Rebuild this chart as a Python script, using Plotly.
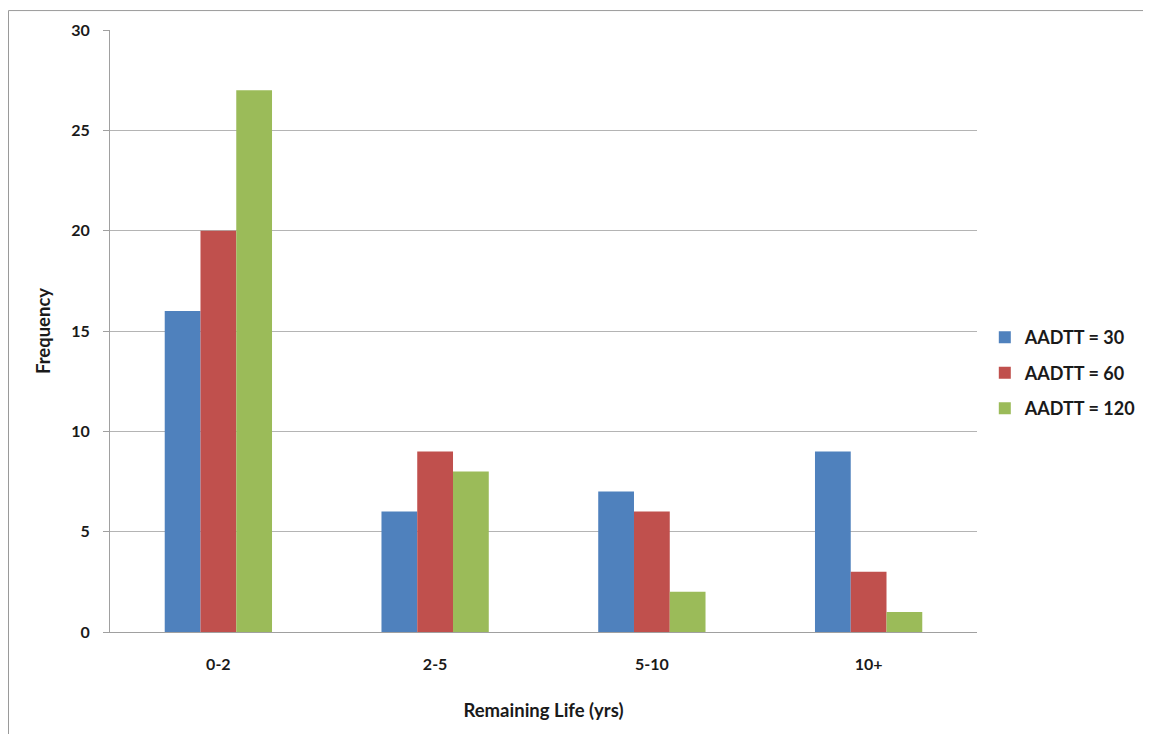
import plotly.graph_objects as go

categories = ["0-2", "2-5", "5-10", "10+"]
series_names = ["AADTT = 30", "AADTT = 60", "AADTT = 120"]
aadtt_30 = [16, 6, 7, 9]
aadtt_60 = [20, 9, 6, 3]
aadtt_120 = [27, 8, 2, 1]
colors = ["#4F81BD", "#C0504D", "#9BBB59"]
y_ticks = [0, 5, 10, 15, 20, 25, 30]

fig = go.Figure()
for i, (name, vals) in enumerate(zip(series_names, [aadtt_30, aadtt_60, aadtt_120])):
    fig.add_trace(go.Bar(x=categories, y=vals, name=name, marker_color=colors[i],
                         marker_line_width=0, legendgroup=str(i)))

font_fam = "Lato, 'Open Sans', sans-serif"
W, H = 1151, 734
L, R, T, B = 102, 182, 20, 110
PW, PH = W - L - R, H - T - B
fig.update_layout(
    width=W, height=H,
    margin=dict(l=L, r=R, t=T, b=B),
    paper_bgcolor="white", plot_bgcolor="white",
    barmode="group", bargap=0.505, bargroupgap=0,
    font=dict(family=font_fam, size=16, color="#1a1a1a"),
    showlegend=True,
    legend=dict(x=1.009, y=0.43, xanchor="left", yanchor="middle",
                font=dict(size=18, family=font_fam, weight="bold"),
                tracegroupgap=9, itemwidth=30, traceorder="grouped"),
    xaxis=dict(title=dict(text="<b>Remaining Life (yrs)</b>", font=dict(size=18.5), standoff=31),
               tickfont=dict(size=16, weight="bold"), showline=True, linecolor="#a0a0a0",
               linewidth=1, ticks="", showgrid=False, ticklabelstandoff=18),
    yaxis=dict(title=dict(text="<b>Frequency</b>", font=dict(size=18.5), standoff=15),
               range=[0, 30], tickvals=y_ticks, tickfont=dict(size=16, weight="bold"),
               showline=True, linecolor="#a0a0a0", linewidth=1,
               ticks="outside", ticklen=6, tickcolor="#a0a0a0", ticklabelstandoff=10,
               showgrid=True, gridcolor="#b4b4b4", gridwidth=1, zeroline=False),
)
# outer frame (left and top edges only are visible in the reference)
fx0 = (0.5 - L) / PW
fy1 = (T - 0.5) / PH + 1
fx1 = (1151 - 8 - L) / PW
fig.add_shape(type="line", xref="paper", yref="paper", x0=fx0, x1=fx1, y0=fy1, y1=fy1,
              line=dict(color="#9a9a9a", width=1), layer="below")
fig.add_shape(type="line", xref="paper", yref="paper", x0=fx0, x1=fx0, y0=-0.2, y1=fy1,
              line=dict(color="#9a9a9a", width=1), layer="below")
fig.write_html("out.html")
